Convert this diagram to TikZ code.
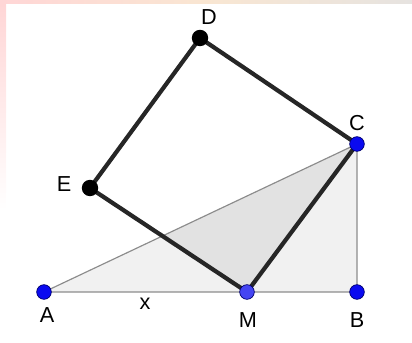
\documentclass[tikz,border=0pt]{standalone}
\usepackage{fontspec}
\usepackage{tikz}
\usepackage{xcolor}
\usetikzlibrary{positioning}
\setmainfont{Liberation Sans}
\definecolor{Ink}{HTML}{262626}
\definecolor{Edge}{HTML}{8C8C8C}
\definecolor{Light}{HTML}{F1F1F1}
\definecolor{Shade}{HTML}{E2E2E2}
\definecolor{PtBlue}{HTML}{0A0AF0}
\definecolor{PtMid}{HTML}{4545F2}
\definecolor{Rim}{HTML}{00006A}
\definecolor{Rose}{HTML}{FFD6D6}
\definecolor{Sand}{HTML}{F9E6D2}
\definecolor{Haze}{HTML}{E6E3E0}
\tikzset{
  side/.style={line width=3.6pt,draw=Ink,line cap=round,line join=round},
  thin/.style={line width=1pt,draw=Edge},
  bluept/.style={circle,fill=PtBlue,draw=Rim,line width=0.6pt,inner sep=0pt,minimum size=12.5pt},
  blackpt/.style={circle,fill=black,inner sep=0pt,minimum size=14pt},
  tag/.style={font=\fontsize{18.5}{18.5}\selectfont,text=black,inner sep=0pt}
}
\begin{document}
\begin{tikzpicture}[x=0.03cm,y=-0.03cm]
  \useasboundingbox (0,0) rectangle (412,343);
  % faint border at top and left
  \shade[left color=Rose,right color=Haze,middle color=Sand] (0,0) rectangle (412,4);
  \shade[top color=Rose,bottom color=white] (0,4) rectangle (6,210);
  % points
  \coordinate (A) at (44,292);
  \coordinate (M) at (247,292);
  \coordinate (B) at (357,292);
  \coordinate (C) at (357,144);
  \coordinate (D) at (200,38);
  \coordinate (E) at (90,188);
  \coordinate (P) at (intersection of A--C and E--M);
  % fills
  \fill[Light] (A) -- (B) -- (C) -- cycle;
  \fill[Shade] (P) -- (M) -- (C) -- cycle;
  \draw[thin] (A) -- (B) -- (C) -- cycle;
  % square
  \draw[side] (M) -- (C) -- (D) -- (E) -- cycle;
  \node[bluept] (ptA) at (A) {};
  \node[bluept,fill=PtMid] (ptM) at (M) {};
  \node[bluept] (ptB) at (B) {};
  \node[bluept] (ptC) at (C) {};
  \node[blackpt] (ptD) at (D) {};
  \node[blackpt] (ptE) at (E) {};
  % labels
  \node[tag] (lblA) at (47,315) {A};
  \node[tag] (lblM) at (248,320) {M};
  \node[tag] (lblB) at (357,320) {B};
  \node[tag] (lblC) at (357,123) {C};
  \node[tag] (lblD) at (209,17) {D};
  \node[tag] (lblE) at (64,184) {E};
  \node[tag] (lblx) at (145,304) {x};
\end{tikzpicture}
\end{document}
